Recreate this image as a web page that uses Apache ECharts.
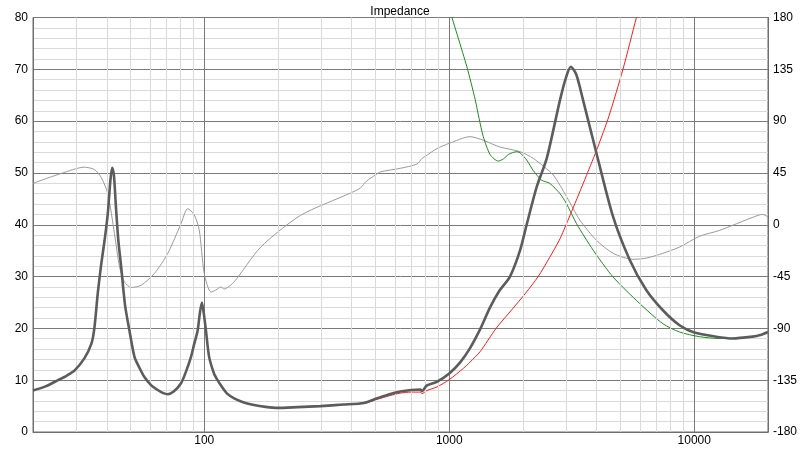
<!DOCTYPE html>
<html><head><meta charset="utf-8">
<script src="https://cdn.jsdelivr.net/npm/echarts@6/dist/echarts.min.js"></script>
<style>html,body{margin:0;padding:0;background:#fff}#c{width:800px;height:450px}</style>
</head><body><div id="c"></div>
<script>
const chartTitle = 'Impedance';
const xMajorLabels = [100, 1000, 10000];
const xMinorGrid = [30,40,50,60,70,80,90,200,300,400,500,600,700,800,900,2000,3000,4000,5000,6000,7000,8000,9000];

// Main impedance magnitude (ohm), dark grey thick
const zFreq = [20,22.5,25.3,27.5,29.6,32.4,34.6,35.6,36.8,38,39.2,40.4,41.4,42.1,42.8,43.6,44.6,45.8,47.5,49.5,51.9,54.5,57,60.5,64.6,68,71,75,80.4,84,88.3,91,94,96,97.8,99.5,101.6,104.7,109.6,113,116.9,124,132.5,145,159.7,178,199,240,298,370,448,508,570,631,700,762,774,811,891,1000,1106,1216,1336,1466,1600,1770,1944,2070,2275,2500,2833,3000,3135,3300,3516,3990,4667,5456,6370,7448,8710,10000,12270,14350,17300,18600,20000];
const zMag  = [8.0,8.8,10.0,10.9,11.9,14.2,17.0,20.0,27.0,32.5,37.0,42.2,48.6,51.0,49.5,43.5,37.0,31.9,24.5,19.6,14.5,12.3,10.6,9.1,8.1,7.5,7.3,7.8,9.4,11.5,14.5,17.0,19.6,23.0,25.0,23.0,19.6,14.5,11.3,10.1,9.0,7.4,6.5,5.7,5.2,4.85,4.65,4.8,5.0,5.3,5.6,6.5,7.3,7.8,8.1,8.2,7.9,9.0,9.7,11.3,13.4,16.2,19.8,24.0,27.2,30.0,35.0,40.0,47.3,52.8,64.1,68.5,70.5,69.0,64.1,53.8,41.5,33.2,27.4,23.5,20.6,19.2,18.4,18.05,18.4,18.7,19.3];

// Second impedance curve, red thin
const rFreq = [20,22.5,25.3,27.5,29.6,32.4,34.6,35.6,36.8,38,39.2,40.4,41.4,42.1,42.8,43.6,44.6,45.8,47.5,49.5,51.9,54.5,57,60.5,64.6,68,71,75,80.4,84,88.3,91,94,96,97.8,99.5,101.6,104.7,109.6,113,116.9,124,132.5,145,159.7,178,199,240,298,370,448,508,570,631,700,762,774,811,891,1000,1143,1216,1336,1553,1800,2050,2307,2570,2832,3155,3631,4040,4488,5117,5808,6300];
const rMag  = [8.0,8.8,10.0,10.9,11.9,14.2,17.0,20.0,27.0,32.5,37.0,42.2,48.6,51.0,49.5,43.5,37.0,31.9,24.5,19.6,14.5,12.3,10.6,9.1,8.1,7.5,7.3,7.8,9.4,11.5,14.5,17.0,19.6,23.0,25.0,23.0,19.6,14.5,11.3,10.1,9.0,7.4,6.5,5.7,5.2,4.85,4.65,4.8,5.0,5.3,5.5,6.3,7.0,7.5,7.7,7.7,7.4,8.0,8.7,10.1,12.3,13.5,15.5,20.0,23.6,26.8,30.0,33.7,37.3,42.5,49.5,55.0,61.0,70.0,80.0,86.0];

// Green thin curve
const gFreq = [1010,1180,1277,1324,1377,1470,1585,1663,1750,1883,1944,2070,2200,2383,2570,2832,3000,3309,3867,4667,5987,7450,8710,10500,12650,16000];
const gMag  = [81.0,70.5,64.1,60.5,57.0,53.5,52.3,52.7,53.6,54.1,53.9,52.5,50.5,48.6,48.0,46.0,44.2,40.2,35.1,29.9,24.8,20.9,19.3,18.4,18.05,18.1];

// Phase (degrees), light grey thin, right axis
const pFreq = [20,26.1,32.4,35.6,37.9,40.4,43,45.1,47.2,50.3,55.2,62.6,71,80.4,85.6,91,95.4,100,106.5,111.5,116.9,120.5,132.5,170,247,395,434,460,500,524,631,738,774,798,891,1000,1216,1377,1610,1944,2203,2657,3013,3415,3990,4667,5620,6370,7450,8710,10500,12650,17500,19000,20000];
const pDeg  = [36,44.6,50,48,41.4,27,-7.6,-36.5,-49.5,-54.5,-52.6,-42.3,-24.8,0.9,14,8.6,-4.5,-42.3,-58.5,-56.7,-54,-55.8,-49.5,-19.4,8.1,27.5,32,38,43.2,45.9,49,52.7,57.6,59.4,66.2,70.7,76.5,73.4,67.5,63.5,57.6,43.2,24.3,4,-13.5,-24.8,-30,-29,-24.8,-19.4,-10,-5,6.8,9,6.8];

const pair = (xs, ys) => xs.map((x, i) => [x, ys[i]]);
const font = 'Liberation Sans, Arial, sans-serif';

const chart = echarts.init(document.getElementById('c'), null, {renderer: 'canvas'});
chart.setOption({
  animation: false,
  backgroundColor: '#fff',
  title: {text: chartTitle, left: 'center', top: 1, textStyle: {fontSize: 12, fontWeight: 'normal', color: '#000', fontFamily: font}},
  grid: {left: 33, right: 32, top: 17.5, bottom: 18, show: true, borderColor: '#6e6e6e', borderWidth: 1, backgroundColor: 'transparent'},
  xAxis: {
    type: 'log', logBase: 10, min: 20, max: 20000,
    axisLine: {show: true, lineStyle: {color: '#6e6e6e'}},
    axisTick: {show: false},
    axisLabel: {color: '#000', fontSize: 12, fontFamily: font, margin: 3,
      formatter: v => xMajorLabels.includes(Math.round(v)) ? String(Math.round(v)) : ''},
    splitLine: {show: true, lineStyle: {color: '#7a7a7a', width: 1}}
  },
  yAxis: [
    {type: 'value', min: 0, max: 80, interval: 10,
     axisLine: {show: true, lineStyle: {color: '#6e6e6e'}},
     axisTick: {show: false},
     axisLabel: {color: '#000', fontSize: 12, fontFamily: font, margin: 5},
     splitLine: {show: true, lineStyle: {color: '#7a7a7a', width: 1}},
     minorTick: {show: false, splitNumber: 5},
     minorSplitLine: {show: true, lineStyle: {color: '#dadada', width: 1}}},
    {type: 'value', min: -180, max: 180, interval: 45, position: 'right',
     axisLine: {show: true, lineStyle: {color: '#6e6e6e'}},
     axisTick: {show: false},
     axisLabel: {color: '#000', fontSize: 12, fontFamily: font, margin: 5},
     splitLine: {show: false}}
  ],
  series: [
    {type: 'line', name: 'grid', data: [], z: 1, silent: true,
     markLine: {silent: true, symbol: 'none', animation: false, label: {show: false},
       lineStyle: {color: '#dadada', width: 1, type: 'solid'},
       data: xMinorGrid.map(v => ({xAxis: v}))}},
    {type: 'line', name: 'Phase', yAxisIndex: 1, data: pair(pFreq, pDeg), symbol: 'none', z: 3,
     smooth: 0.25, lineStyle: {color: '#9a9a9a', width: 1}},
    {type: 'line', name: 'Green', data: pair(gFreq, gMag), symbol: 'none', z: 3, clip: true,
     smooth: 0.25, lineStyle: {color: '#1e8c1e', width: 1}},
    {type: 'line', name: 'Red', data: pair(rFreq, rMag), symbol: 'none', z: 4, clip: true,
     smooth: 0.25, lineStyle: {color: '#ff1a1a', width: 1}},
    {type: 'line', name: 'Impedance', data: pair(zFreq, zMag), symbol: 'none', z: 5,
     smooth: 0.25, lineStyle: {color: '#5c5c5c', width: 2.6}}
  ]
});
</script></body></html>
